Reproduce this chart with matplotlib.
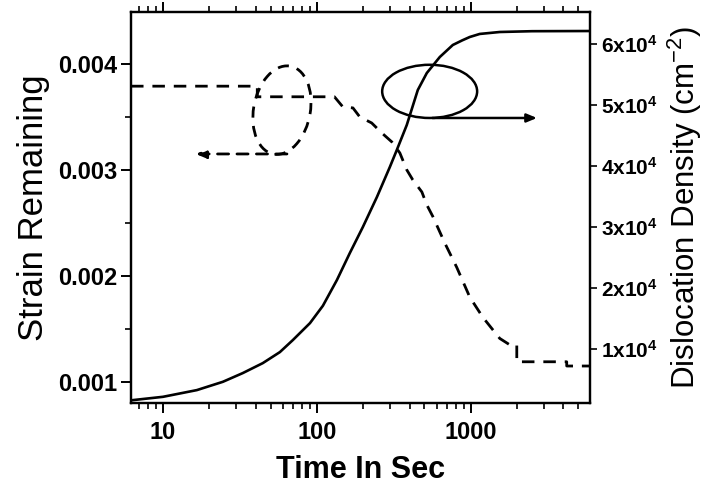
import matplotlib
matplotlib.use("Agg")
import matplotlib.pyplot as plt
from matplotlib.patches import Ellipse, FancyArrowPatch
from matplotlib.ticker import LogLocator, NullFormatter, FixedLocator, MultipleLocator

plt.rcParams['font.family'] = ['Liberation Sans', 'DejaVu Sans']
plt.rcParams['mathtext.fontset'] = 'custom'
plt.rcParams['mathtext.rm'] = 'Liberation Sans'
plt.rcParams['mathtext.bf'] = 'Liberation Sans:bold'
plt.rcParams['mathtext.it'] = 'Liberation Sans:italic'

# Strain remaining in the film (left axis)
time_strain = [6.2, 41, 41, 130, 147.6, 171.5, 190, 227, 264, 307, 346, 384,
               420, 481, 518, 567, 678, 811, 985, 1197, 1543, 1791, 1990, 1990,
               4200, 4200, 5930]
strain = [0.00379, 0.00379, 0.00369, 0.00369, 0.003594, 0.003585, 0.00350,
          0.003443, 0.003349, 0.003264, 0.00316, 0.00300, 0.002906, 0.002792,
          0.00267, 0.00256, 0.00231, 0.00208, 0.00180, 0.00161, 0.00141,
          0.00135, 0.00135, 0.00119, 0.00119, 0.00115, 0.00115]

# Dislocation density (right axis)
time_disloc = [6.2, 6.38, 10, 16.6, 24.5, 33.0, 44.5, 57.5, 69.8, 90.2, 109.4,
               134.9, 163.7, 198.9, 245.5, 297.9, 330.5, 383.7, 452.6, 518, 629,
               764, 880, 985, 1143, 1543, 2500, 5930]
disloc = [1600, 1640, 2180, 3280, 4640, 6070, 7700, 9510, 11480, 14260, 17100,
          21310, 25740, 30000, 34920, 39840, 42620, 46720, 52460, 55250, 57870,
          59840, 60600, 61150, 61650, 61970, 62100, 62130]

x_ticks = [10, 100, 1000]
x_tick_labels = ['10', '100', '1000']
left_ticks = [0.001, 0.002, 0.003, 0.004]
left_tick_labels = ['0.001', '0.002', '0.003', '0.004']
right_ticks = [1e4, 2e4, 3e4, 4e4, 5e4, 6e4]
right_tick_labels = [r'$\mathbf{%dx10^{4}}$' % k for k in range(1, 7)]

fig = plt.figure(figsize=(7.14, 4.91), dpi=100)
ax = fig.add_axes([0.1835, 0.179, 0.6425, 0.7966])
ax2 = ax.twinx()

lw_spine = 1.6
for a in (ax, ax2):
    for s in a.spines.values():
        s.set_linewidth(lw_spine)

ax.plot(time_strain, strain, color='black', lw=2.0, linestyle=(0, (4.5, 3.2)))
ax2.plot(time_disloc, disloc, color='black', lw=1.9)

ax.set_xscale('log')
ax.set_xlim(6.2, 5930)
ax.set_ylim(0.0008, 0.00449)
ax2.set_ylim(1148, 65250)

ax.xaxis.set_major_locator(FixedLocator(x_ticks))
ax.set_xticklabels(x_tick_labels)
ax.xaxis.set_minor_locator(LogLocator(base=10, subs=range(2, 10)))
ax.xaxis.set_minor_formatter(NullFormatter())

ax.set_yticks(left_ticks)
ax.set_yticklabels(left_tick_labels)
ax.yaxis.set_minor_locator(MultipleLocator(0.0005))

ax2.set_yticks(right_ticks)
ax2.set_yticklabels(right_tick_labels)

ax.tick_params(axis='both', which='major', direction='out', length=7, width=1.4,
               labelsize=17, top=True, right=False)
ax.tick_params(axis='both', which='minor', direction='out', length=4, width=1.2,
               top=True, right=False)
for lab in ax.get_xticklabels() + ax.get_yticklabels():
    lab.set_fontweight('bold')
ax.tick_params(axis='x', which='major', pad=6)
ax.tick_params(axis='y', which='major', pad=3)
ax2.tick_params(axis='y', which='major', direction='out', length=5, width=1.2,
                labelsize=15, pad=3)

ax.set_xlabel('Time In Sec', fontsize=22, fontweight='bold', labelpad=8)
ax.set_ylabel('Strain Remaining', fontsize=25, labelpad=6)
ax2.set_ylabel(r'Dislocation Density (cm$^{-2}$)', fontsize=22.5, labelpad=6)

# Markers pointing each curve to its axis
ell_dash = Ellipse((0.329, 0.749), 0.124, 0.228, angle=-8, transform=ax2.transAxes,
                   fill=False, ec='black', lw=2.0, linestyle=(0, (4, 3)))
ax2.add_patch(ell_dash)
arr_dash = FancyArrowPatch((0.346, 0.637), (0.135, 0.637), transform=ax2.transAxes,
                           arrowstyle='-|>,head_length=6,head_width=2.5',
                           color='black', lw=2.0, linestyle=(0, (4, 3)))
ax2.add_patch(arr_dash)

ell_solid = Ellipse((0.651, 0.797), 0.207, 0.136, transform=ax2.transAxes,
                    fill=False, ec='black', lw=1.8)
ax2.add_patch(ell_solid)
arr_solid = FancyArrowPatch((0.651, 0.729), (0.891, 0.729), transform=ax2.transAxes,
                            arrowstyle='-|>,head_length=6,head_width=2.5',
                            color='black', lw=1.8)
ax2.add_patch(arr_solid)

fig.savefig('out.png', dpi=100)
